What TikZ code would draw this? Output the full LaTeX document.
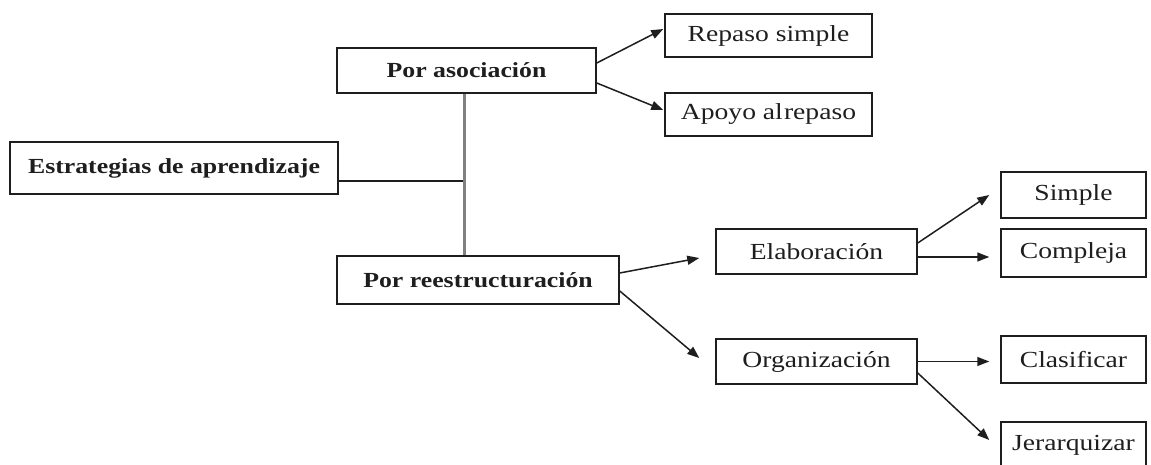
\documentclass[tikz,border=0pt]{standalone}
\usepackage{fontspec}
\setmainfont[FakeStretch=1.2]{Liberation Serif}
\usetikzlibrary{arrows.meta}
\definecolor{ink}{HTML}{1E1E1E}
\definecolor{trunk}{HTML}{808080}
\tikzset{
  box/.style={draw=ink, line width=1.5pt, rectangle, inner sep=0pt, text=ink},
  bbox/.style={box, font=\fontsize{21.5}{25}\selectfont\bfseries},
  rbox/.style={box, font=\fontsize{23}{27}\selectfont},
  conn/.style={draw=ink, line width=1.5pt},
  arr/.style={conn, -{Triangle[length=12pt,width=9pt]}},
}
\begin{document}
\begin{tikzpicture}[x=1pt,y=-1pt]
\useasboundingbox (0,0) rectangle (1151,465);
\clip (0,0) rectangle (1151,465);
% nodes
\node[bbox, minimum width=328pt, minimum height=52pt] (est) at (174,168) {Estrategias de aprendizaje};
\node[bbox, minimum width=259pt, minimum height=45pt] (asoc) at (466.5,70.5) {Por asociación};
\node[bbox, minimum width=282pt, minimum height=48pt] (reest) at (478,280) {Por reestructuración};
\node[rbox, minimum width=207pt, minimum height=43pt] (rep) at (768.5,35.5) {Repaso simple};
\node[rbox, minimum width=207pt, minimum height=43pt] (apoyo) at (768.5,114.5) {Apoyo al\kern0.05em repaso};
\node[rbox, minimum width=201pt, minimum height=45pt] (elab) at (816.5,251.5) {Elaboración};
\node[rbox, minimum width=201pt, minimum height=45pt] (org) at (816.5,361.5) {Organización};
\node[rbox, minimum width=145pt, minimum height=46pt] (simple) at (1073.5,195) {Simple};
\node[rbox, minimum width=145pt, minimum height=48pt] (compleja) at (1073.5,253) {Compleja};
\node[rbox, minimum width=145pt, minimum height=47pt] (clasif) at (1073.5,359.5) {Clasificar};
\node[rbox, minimum width=145pt, minimum height=47pt] (jerar) at (1073.5,445.5) {Jerarquizar};
% junction
\coordinate (j) at (464,181);
\draw[conn] (est.east |- j) -- (j);
\draw[draw=trunk, line width=3pt] (asoc.south -| j) -- (reest.north -| j);
% arrows
\draw[arr] ([yshift=7.5pt]asoc.east) -- ([xshift=-1pt,yshift=6.5pt]rep.west);
\draw[arr] ([yshift=-12.5pt]asoc.east) -- ([xshift=-1pt,yshift=4.5pt]apoyo.west);
\draw[arr] ([yshift=7pt]reest.east) -- ([xshift=-16pt,yshift=-6.5pt]elab.west);
\draw[arr] ([yshift=-11pt]reest.east) -- ([xshift=-16pt,yshift=3.5pt]org.west);
\draw[arr] ([yshift=8.5pt]elab.east) -- ([xshift=-11pt]simple.west);
\draw[arr] ([yshift=-5.5pt]elab.east) -- ([xshift=-11pt,yshift=-4pt]compleja.west);
\draw[arr] (org.east) -- ([xshift=-11pt,yshift=-2pt]clasif.west);
\draw[arr] ([yshift=-11.5pt]org.east) -- ([xshift=-11pt,yshift=5.5pt]jerar.west);
\end{tikzpicture}
\end{document}
